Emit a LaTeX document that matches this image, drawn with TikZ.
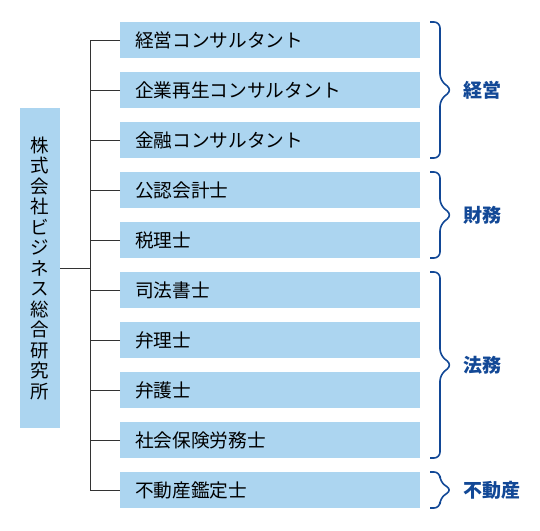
\documentclass[tikz,border=0pt]{standalone}
\usepackage{fontspec}
\newfontfamily\jpfont{Noto Sans CJK JP}
\usetikzlibrary{positioning, calc}
\definecolor{boxblue}{RGB}{172,213,240}
\definecolor{grpblue}{RGB}{18,72,150}
\definecolor{linegray}{RGB}{51,51,51}

\begin{document}
\begin{tikzpicture}[x=1pt, y=-1pt,
    item/.style={fill=boxblue, minimum height=36pt, text width=270pt,
                 inner xsep=15pt, inner ysep=0pt, outer sep=0pt, align=left,
                 font=\jpfont\fontsize{18.7}{20}\selectfont},
    head/.style={fill=boxblue, minimum width=40pt, minimum height=320pt,
                 inner sep=0pt, outer sep=0pt, align=center,
                 font=\jpfont\fontsize{18.5}{20.5}\selectfont},
    conn/.style={draw=linegray, line width=0.9pt},
    brace/.style={draw=grpblue, line width=1.6pt, rounded corners=6pt},
    grplbl/.style={text=grpblue, inner sep=0pt,
                   font=\jpfont\bfseries\fontsize{19}{22}\selectfont},
]
\useasboundingbox (0,0) rectangle (540,530);

% company (vertical text)
\node[head] (co) at (40,268) {株\\式\\会\\社\\ビ\\ジ\\ネ\\ス\\総\\合\\研\\究\\所};

% services
\node[item, anchor=north west] (b1) at (120,22) {経営コンサルタント};
\node[item, below=14pt of b1]  (b2)  {企業再生コンサルタント};
\node[item, below=14pt of b2]  (b3)  {金融コンサルタント};
\node[item, below=14pt of b3]  (b4)  {公認会計士};
\node[item, below=14pt of b4]  (b5)  {税理士};
\node[item, below=14pt of b5]  (b6)  {司法書士};
\node[item, below=14pt of b6]  (b7)  {弁理士};
\node[item, below=14pt of b7]  (b8)  {弁護士};
\node[item, below=14pt of b8]  (b9)  {社会保険労務士};
\node[item, below=14pt of b9]  (b10) {不動産鑑定士};

% trunk and branches
\coordinate (tr) at ($(b1.west)+(-30,0)$);
\draw[conn] (co.east) -- (co.east -| tr);
\draw[conn] (b1.west) -- (tr) -- (tr |- b10.west) -- (b10.west);
\draw[conn] (b2.west) -- (b2.west -| tr);
\draw[conn] (b3.west) -- (b3.west -| tr);
\draw[conn] (b4.west) -- (b4.west -| tr);
\draw[conn] (b5.west) -- (b5.west -| tr);
\draw[conn] (b6.west) -- (b6.west -| tr);
\draw[conn] (b7.west) -- (b7.west -| tr);
\draw[conn] (b8.west) -- (b8.west -| tr);
\draw[conn] (b9.west) -- (b9.west -| tr);

% brace: 経営
\coordinate (k1) at ($(b1.north east)+(10,0)$);
\coordinate (k2) at ($(b3.south east)+(10,0)$);
\coordinate (km) at ($(k1)!0.5!(k2)+(22,0)$);
\draw[brace] (k1) -- ++(10,0) -- ($(km)+(-12,-10)$) -- (km)
             -- ($(km)+(-12,10)$) -- ($(k2)+(10,0)$) -- (k2);
\node[grplbl, right=11pt of km] (gKeiei) {経営};

% brace: 財務
\coordinate (z1) at ($(b4.north east)+(10,0)$);
\coordinate (z2) at ($(b5.south east)+(10,0)$);
\coordinate (zm) at ($(z1)!0.5!(z2)+(22,0)$);
\draw[brace] (z1) -- ++(10,0) -- ($(zm)+(-12,-10)$) -- (zm)
             -- ($(zm)+(-12,10)$) -- ($(z2)+(10,0)$) -- (z2);
\node[grplbl, right=11pt of zm] (gZaimu) {財務};

% brace: 法務
\coordinate (h1) at ($(b6.north east)+(10,0)$);
\coordinate (h2) at ($(b9.south east)+(10,0)$);
\coordinate (hm) at ($(h1)!0.5!(h2)+(22,0)$);
\draw[brace] (h1) -- ++(10,0) -- ($(hm)+(-12,-10)$) -- (hm)
             -- ($(hm)+(-12,10)$) -- ($(h2)+(10,0)$) -- (h2);
\node[grplbl, right=11pt of hm] (gHoumu) {法務};

% brace: 不動産
\coordinate (f1) at ($(b10.north east)+(10,0)$);
\coordinate (f2) at ($(b10.south east)+(10,0)$);
\coordinate (fm) at ($(f1)!0.5!(f2)+(22,0)$);
\draw[brace] (f1) -- ++(10,0) -- ($(fm)+(-12,-8)$) -- (fm)
             -- ($(fm)+(-12,8)$) -- ($(f2)+(10,0)$) -- (f2);
\node[grplbl, right=11pt of fm] (gFudosan) {不動産};

\end{tikzpicture}
\end{document}
